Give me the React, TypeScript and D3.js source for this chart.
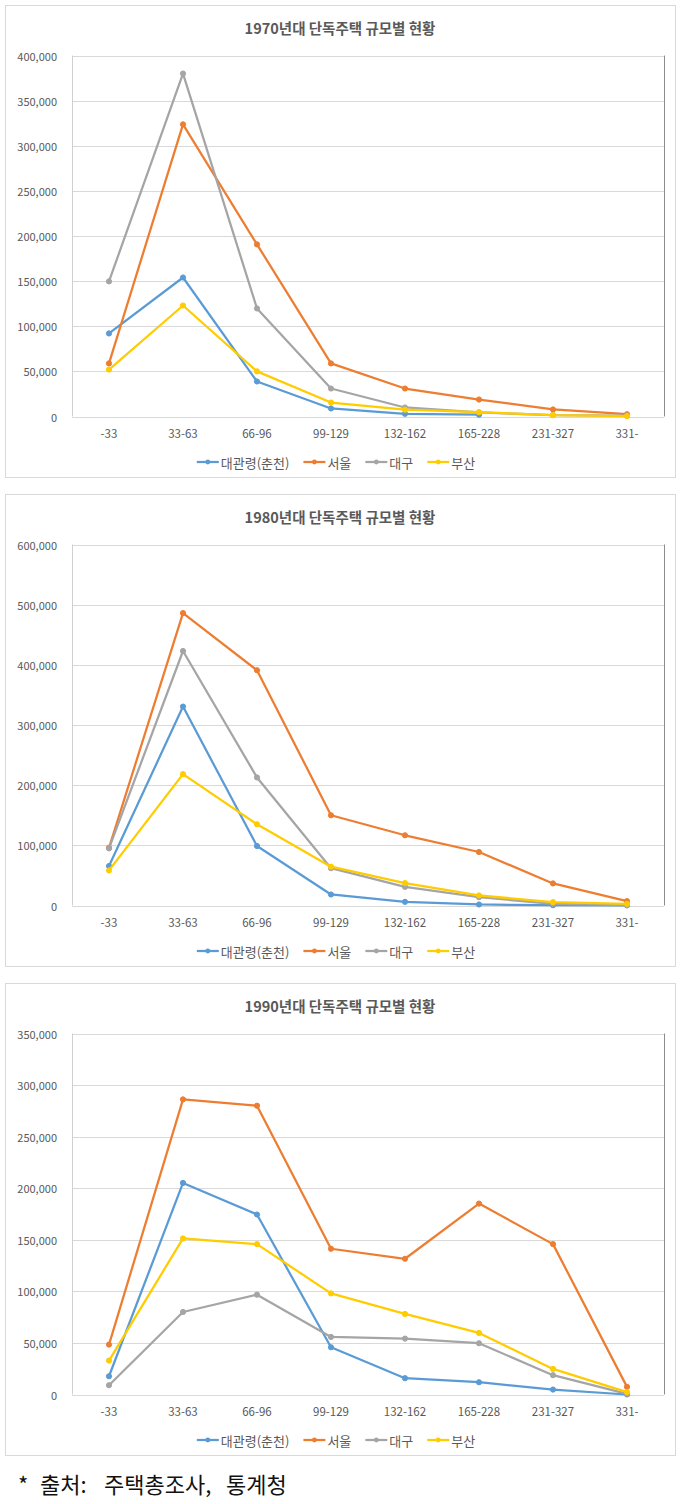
import React, { useEffect, useRef } from "react";
import * as d3 from "d3";

const categories = ["-33", "33-63", "66-96", "99-129", "132-162", "165-228", "231-327", "331-"];
const seriesNames = ["대관령(춘천)", "서울", "대구", "부산"];
const seriesColors = ["#5B9BD5", "#ED7D31", "#A5A5A5", "#FFCC00"];

const titles = ["1970년대 단독주택 규모별 현황", "1980년대 단독주택 규모별 현황", "1990년대 단독주택 규모별 현황"];

// 1970s
const s1970Daegwallyeong = [92000, 154000, 38800, 8900, 3000, 2000, null, null];
const s1970Seoul = [58800, 323700, 190700, 58800, 31000, 18800, 7800, 2500];
const s1970Daegu = [149700, 380000, 119700, 31000, 10000, 4500, 1500, 1000];
const s1970Busan = [52000, 123000, 50000, 15500, 7500, 4800, 1500, 500];

// 1980s
const s1980Daegwallyeong = [65600, 330600, 98900, 18300, 6100, 1700, 500, 200];
const s1980Seoul = [96000, 486000, 391000, 150000, 116700, 88900, 36700, 7200];
const s1980Daegu = [95000, 423000, 212800, 62000, 31000, 13900, 2800, 600];
const s1980Busan = [58300, 218300, 135000, 64500, 37200, 16700, 5600, 2800];

// 1990s
const s1990Daegwallyeong = [17700, 205100, 174500, 45800, 15800, 11900, 4800, 0];
const s1990Seoul = [48400, 286100, 280000, 141300, 131600, 185100, 145800, 7400];
const s1990Daegu = [9000, 80000, 96800, 55800, 54200, 49700, 18700, 600];
const s1990Busan = [32900, 151300, 145800, 98000, 78100, 59700, 24800, 2300];

const yTicks1970 = [0, 50000, 100000, 150000, 200000, 250000, 300000, 350000, 400000];
const yTicks1980 = [0, 100000, 200000, 300000, 400000, 500000, 600000];
const yTicks1990 = [0, 50000, 100000, 150000, 200000, 250000, 300000, 350000];

const footnoteParts = ["*", "출처:", "주택총조사,", "통계청"];

const charts = [
  { title: titles[0], series: [s1970Daegwallyeong, s1970Seoul, s1970Daegu, s1970Busan], ticks: yTicks1970, top: 5 },
  { title: titles[1], series: [s1980Daegwallyeong, s1980Seoul, s1980Daegu, s1980Busan], ticks: yTicks1980, top: 494 },
  { title: titles[2], series: [s1990Daegwallyeong, s1990Seoul, s1990Daegu, s1990Busan], ticks: yTicks1990, top: 983 },
];

const W = 681;
const H = 1504;
const FONT = "'Noto Sans CJK KR', 'Noto Sans', sans-serif";
const TXT = "#595959";

export default function App() {
  const ref = useRef<SVGSVGElement>(null);

  useEffect(() => {
    const svg = d3.select(ref.current);
    svg.selectAll("*").remove();
    svg.append("rect").attr("width", W).attr("height", H).attr("fill", "#fff");

    const fmt = d3.format(",");
    const plotL = 72;
    const plotR = 664;

    charts.forEach((c) => {
      const g = svg.append("g").attr("transform", `translate(0,${c.top})`);
      g.append("rect")
        .attr("x", 5.5).attr("y", 0.5).attr("width", 670).attr("height", 472)
        .attr("fill", "#fff").attr("stroke", "#d9d9d9").attr("stroke-width", 1);

      g.append("text")
        .attr("x", 340).attr("y", 22).attr("text-anchor", "middle").attr("dominant-baseline", "central")
        .attr("font-family", FONT).attr("font-size", 14.5).attr("font-weight", 700).attr("fill", TXT)
        .text(c.title);

      const x = d3.scaleBand<string>().domain(categories).range([plotL, plotR]);
      const yMax = c.ticks[c.ticks.length - 1];
      const y = d3.scaleLinear().domain([0, yMax]).range([411.5, 50.5]);

      g.selectAll(".grid").data(c.ticks).enter().append("line")
        .attr("x1", plotL).attr("x2", plotR)
        .attr("y1", (d) => Math.round(y(d)) + 0.5).attr("y2", (d) => Math.round(y(d)) + 0.5)
        .attr("stroke", "#d9d9d9").attr("stroke-width", 1);
      g.append("line").attr("x1", plotL + 0.5).attr("x2", plotL + 0.5)
        .attr("y1", y(yMax)).attr("y2", y(0)).attr("stroke", "#d0d0d0");
      g.append("line").attr("x1", plotR + 0.5).attr("x2", plotR + 0.5)
        .attr("y1", y(yMax)).attr("y2", y(0)).attr("stroke", "#8c8c8c");

      g.selectAll(".yl").data(c.ticks).enter().append("text")
        .attr("x", 57).attr("y", (d) => y(d)).attr("text-anchor", "end").attr("dominant-baseline", "central")
        .attr("font-family", FONT).attr("font-size", 11).attr("fill", TXT)
        .text((d) => fmt(d));

      g.selectAll(".xl").data(categories).enter().append("text")
        .attr("x", (d) => (x(d) as number) + x.bandwidth() / 2).attr("y", 428)
        .attr("text-anchor", "middle").attr("dominant-baseline", "central")
        .attr("font-family", FONT).attr("font-size", 11.5).attr("fill", TXT)
        .text((d) => d);

      c.series.forEach((vals, si) => {
        const pts = vals.map((v, i) => ({ v, cat: categories[i] })).filter((p) => p.v !== null) as { v: number; cat: string }[];
        const line = d3.line<{ v: number; cat: string }>()
          .x((p) => (x(p.cat) as number) + x.bandwidth() / 2)
          .y((p) => y(p.v));
        g.append("path").datum(pts).attr("d", line).attr("fill", "none")
          .attr("stroke", seriesColors[si]).attr("stroke-width", 2.25).attr("stroke-linejoin", "round")
          .attr("stroke-linecap", "round");
        g.selectAll(`.m${si}`).data(pts).enter().append("circle")
          .attr("cx", (p) => (x(p.cat) as number) + x.bandwidth() / 2).attr("cy", (p) => y(p.v))
          .attr("r", 2.6).attr("fill", seriesColors[si]).attr("stroke", seriesColors[si]);
      });

      const lg = g.append("g");
      let cx = 0;
      seriesNames.forEach((name, si) => {
        const item = lg.append("g").attr("transform", `translate(${cx},0)`);
        item.append("line").attr("x1", 0).attr("x2", 22).attr("y1", 457).attr("y2", 457)
          .attr("stroke", seriesColors[si]).attr("stroke-width", 2.25);
        item.append("circle").attr("cx", 11).attr("cy", 457).attr("r", 2.4).attr("fill", seriesColors[si]);
        const t = item.append("text").attr("x", 24).attr("y", 457).attr("dominant-baseline", "central")
          .attr("font-family", FONT).attr("font-size", 13).attr("fill", TXT).text(name);
        const tw = (t.node() as SVGTextElement).getComputedTextLength();
        cx += 24 + tw + 14;
      });
      const total = cx - 14;
      lg.attr("transform", `translate(${336 - total / 2},0)`);
    });

    const footX = [18, 40, 104, 226];
    svg.selectAll(".foot").data(footnoteParts).enter().append("text")
      .attr("x", (_d, i) => footX[i]).attr("y", 1483).attr("dominant-baseline", "central")
      .attr("font-family", FONT).attr("font-size", 22).attr("font-weight", 400).attr("fill", "#111")
      .text((d) => d);
  }, []);

  return (
    <svg ref={ref} width={W} height={H} style={{ position: "absolute", left: 0, top: 0, display: "block" }} />
  );
}
